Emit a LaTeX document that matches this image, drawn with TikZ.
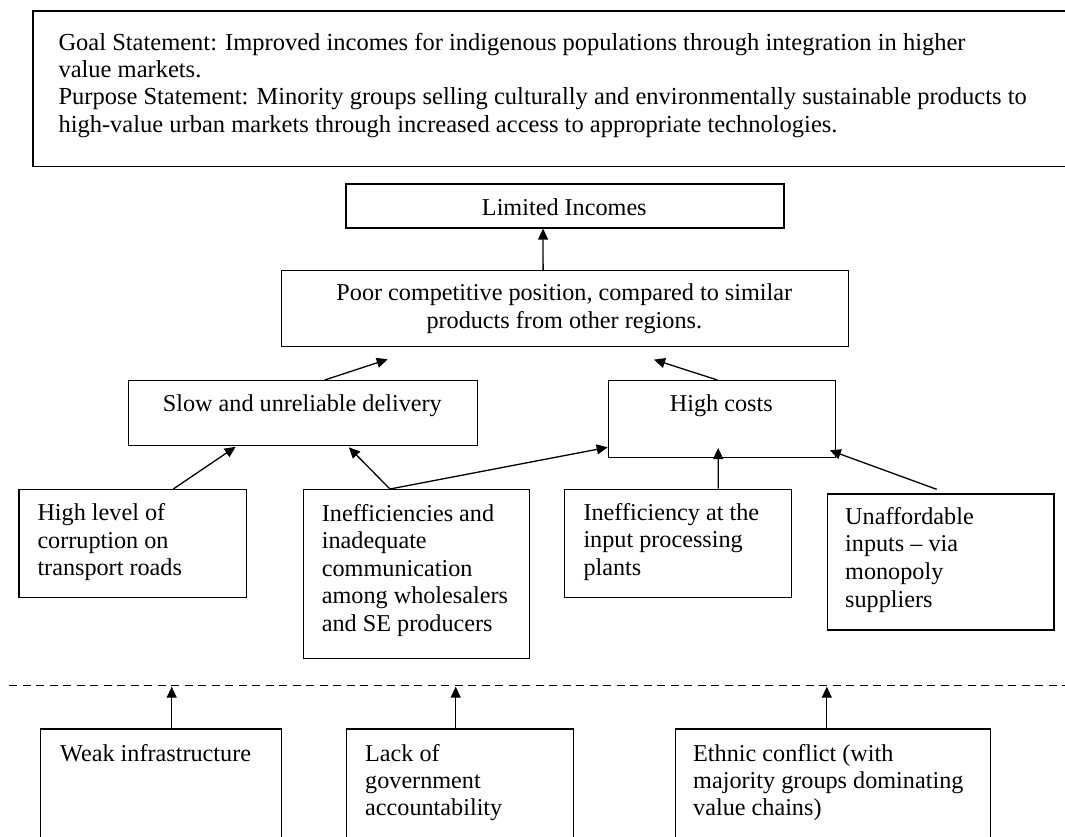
\documentclass[tikz,border=0pt]{standalone}
\usepackage{fontspec}
\setmainfont{Liberation Serif}
\usetikzlibrary{arrows.meta}
\begin{document}
\begin{tikzpicture}[x=1pt,y=-1pt,
  box/.style={draw, line width=1.3pt, inner sep=0pt, anchor=north west},
  % multi-line texts are placed by the baseline of their last line
  txt/.style={inner sep=0pt, anchor=base west, align=left,
    font=\fontsize{24.2}{27.6}\selectfont},
  ctxt/.style={inner sep=0pt, anchor=base, align=center,
    font=\fontsize{24.2}{27.4}\selectfont},
  link/.style={line width=1.3pt, -{Triangle[length=11pt,width=10pt]}},
  cut/.style={line width=1.3pt, dash pattern=on 8pt off 5.5pt}]
\useasboundingbox (0,0) rectangle (1065,836);

% statement box
\node[box, line width=1.6pt, minimum width=1050pt, minimum height=155.7pt] (goal) at (32.3,10) {};
\node[txt, font=\fontsize{24.5}{27.2}\selectfont] (goaltxt) at (58.3,132.1)
  {Goal Statement: Improved incomes for indigenous populations through integration in higher\\
   value markets.\\
   Purpose Statement: Minority groups selling culturally and environmentally sustainable products to\\
   high-value urban markets through increased access to appropriate technologies.};

% problem tree boxes
\node[box, minimum width=438pt, minimum height=44pt] (limited) at (345.3,183.3) {};
\node[ctxt] (limitedtxt) at (564.3,215) {Limited Incomes};

\node[box, minimum width=566.7pt, minimum height=76pt] (poor) at (281,270) {};
\node[ctxt] (poortxt) at (564.3,328.1) {Poor competitive position, compared to similar\\products from other regions.};

\node[box, minimum width=349.4pt, minimum height=65pt] (slow) at (127.6,380) {};
\node[ctxt] (slowtxt) at (302.3,411.7) {Slow and unreliable delivery};

\node[box, minimum width=227.3pt, minimum height=76.7pt] (costs) at (607.7,380) {};
\node[ctxt] (coststxt) at (721.3,411.7) {High costs};

\node[box, minimum width=227.7pt, minimum height=107.7pt] (corrupt) at (18.3,489) {};
\node[txt] (corrupttxt) at (37.3,575.9) {High level of\\corruption on\\transport roads};

\node[box, minimum width=225.8pt, minimum height=168.7pt] (ineff) at (302.7,489) {};
\node[txt] (inefftxt) at (321.7,631.4) {Inefficiencies and\\inadequate\\communication\\among wholesalers\\and SE producers};

\node[box, minimum width=227pt, minimum height=108.2pt] (plants) at (564,488.5) {};
\node[txt] (plantstxt) at (583.3,575.2) {Inefficiency at the\\input processing\\plants};

\node[box, minimum width=226.8pt, minimum height=136pt] (inputs) at (826.5,493.3) {};
\node[txt] (inputstxt) at (845,607.1) {Unaffordable\\inputs -- via\\monopoly\\suppliers};

% separator between the tree and the underlying causes
\draw[cut] (9,685.7) -- (1075,685.7);
\coordinate (cutA) at (171.7,686.7);
\coordinate (cutB) at (455.7,686.7);
\coordinate (cutC) at (826.8,686.7);

% underlying causes
\node[box, minimum width=240.6pt, minimum height=130pt] (infra) at (40,728.3) {};
\node[txt] (infratxt) at (60,761.7) {Weak infrastructure};

\node[box, minimum width=227pt, minimum height=130pt] (account) at (345.7,728.3) {};
\node[txt, font=\fontsize{24.2}{26.8}\selectfont] (accounttxt) at (365,815.3) {Lack of\\government\\accountability};

\node[box, minimum width=315.2pt, minimum height=130pt] (ethnic) at (674.6,728.3) {};
\node[txt, font=\fontsize{24.2}{26.8}\selectfont] (ethnictxt) at (693,815.3) {Ethnic conflict (with\\majority groups dominating\\value chains)};

% causal links
\draw[link] ([xshift=-21.9pt]poor.north) -- ([xshift=-21.9pt]limited.south);
\draw[link] ([xshift=21.7pt]slow.north) -- ([xshift=-177.3pt,yshift=-12pt]poor.south);
\draw[link] ([xshift=-4.6pt]costs.north) -- ([xshift=89pt,yshift=-12.3pt]poor.south);
\draw[link] ([xshift=40.5pt]corrupt.north) -- ([xshift=-67.3pt,yshift=-0.5pt]slow.south);
\draw[link] ([xshift=-26.3pt]ineff.north) -- ([xshift=45.9pt,yshift=-1pt]slow.south);
\draw[link] ([xshift=-26.3pt]ineff.north) -- ([yshift=10.7pt]costs.south west);
\draw[link] ([xshift=40pt]plants.north) -- ([xshift=-3.8pt,yshift=10pt]costs.south);
\draw[link] ([xshift=-3.9pt,yshift=4pt]inputs.north) -- ([xshift=-6.5pt,yshift=7.7pt]costs.south east);
\draw[link] (infra.north -| cutA) -- (cutA);
\draw[link] (account.north -| cutB) -- (cutB);
\draw[link] (ethnic.north -| cutC) -- (cutC);
\end{tikzpicture}
\end{document}
